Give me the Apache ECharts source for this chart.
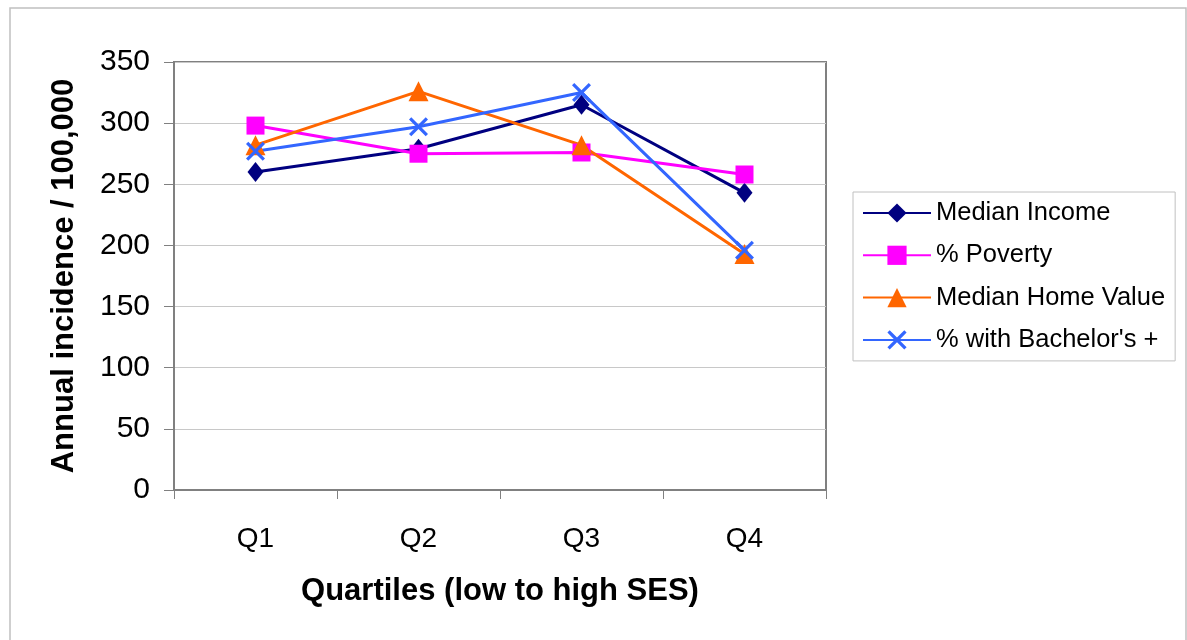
<!DOCTYPE html>
<html><head><meta charset="utf-8">
<style>html,body{margin:0;padding:0;background:#fff;}#c{width:1187px;height:640px;}</style>
<script src="https://cdn.jsdelivr.net/npm/echarts@6/dist/echarts.min.js"></script>
</head><body><div id="c"></div>
<script>
const categories = ['Q1','Q2','Q3','Q4'];
const medianIncome = [260, 279, 315, 243];
const povertyPct = [298, 275, 276, 258];
const medianHomeValue = [282, 326, 282, 193];
const bachelorsPct = [277, 297, 325, 196];
const yTicks = {min: 0, max: 350, interval: 50};

const xSym = 'path://M0,1.2 L1.2,0 L5,3.8 L8.8,0 L10,1.2 L6.2,5 L10,8.8 L8.8,10 L5,6.2 L1.2,10 L0,8.8 L3.8,5 Z';
const font = 'Liberation Sans, Arial, sans-serif';
const chart = echarts.init(document.getElementById('c'));
function ser(name, data, color, symbol, size){
  return {name, type:'line', data, symbol, symbolSize:size, showAllSymbol:true,
    lineStyle:{color, width:3}, itemStyle:{color, borderWidth:0}, z: 3, animation:false};
}
chart.setOption({
  animation:false,
  textStyle:{fontFamily:font},
  graphic:[{type:'rect', shape:{x:10, y:8, width:1176, height:640}, style:{fill:'none', stroke:'#c0c0c0', lineWidth:1.5}, z:-1}],
  grid:{left:174, right:361, top:62, bottom:150, show:true, borderColor:'#808080', borderWidth:2, backgroundColor:'#fff'},
  legend:{orient:'vertical', left:853, top:192, padding:[8,10,8,9], itemGap:16.3,
    itemWidth:68, itemHeight:24, borderColor:'#c0c0c0', borderWidth:1,
    textStyle:{fontSize:25.5, color:'#000', fontFamily:font},
    data:['Median Income','% Poverty','Median Home Value',"% with Bachelor's +"]},
  xAxis:{type:'category', data:categories, boundaryGap:true,
    name:'Quartiles (low to high SES)', nameLocation:'middle', nameGap:86,
    nameTextStyle:{fontSize:31, fontWeight:'bold', color:'#000', fontFamily:font},
    axisLine:{lineStyle:{color:'#808080', width:2}},
    axisTick:{show:true, length:9, lineStyle:{color:'#808080', width:1}},
    axisLabel:{fontSize:28, color:'#000', margin:35, fontFamily:font},
    splitLine:{show:false}},
  yAxis:{type:'value', min:yTicks.min, max:yTicks.max, interval:yTicks.interval,
    name:'Annual incidence / 100,000', nameLocation:'middle', nameGap:94,
    nameTextStyle:{fontSize:31, fontWeight:'bold', color:'#000', fontFamily:font},
    axisLine:{show:true, lineStyle:{color:'#808080', width:2}},
    axisTick:{show:true, length:10, lineStyle:{color:'#808080', width:1}},
    axisLabel:{fontSize:30, color:'#000', margin:24, fontFamily:font},
    splitLine:{show:true, lineStyle:{color:'#c8c8c8', width:1}}},
  series:[
    ser('Median Income', medianIncome, '#000080', 'diamond', [16, 20]),
    ser('% Poverty', povertyPct, '#ff00ff', 'rect', 18),
    ser('Median Home Value', medianHomeValue, '#ff6600', 'triangle', 20),
    ser("% with Bachelor's +", bachelorsPct, '#3366ff', xSym, 19)
  ]
});
</script></body></html>
